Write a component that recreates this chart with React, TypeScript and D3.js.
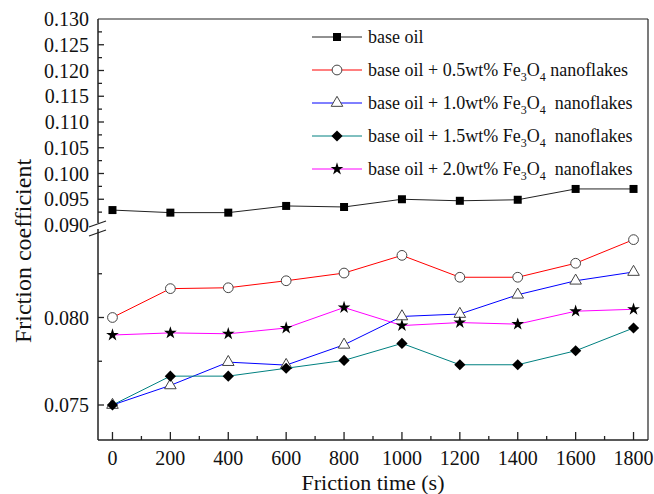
import React from "react";
import * as d3 from "d3";

// friction time (s)
const times = [0, 200, 400, 600, 800, 1000, 1200, 1400, 1600, 1800];

// friction coefficient
const baseOil = [0.0929, 0.0924, 0.0924, 0.0937, 0.0935, 0.095, 0.0947, 0.0949, 0.097, 0.097];
const wt05 = [0.08, 0.08165, 0.0817, 0.0821, 0.08254, 0.08355, 0.0823, 0.0823, 0.0831, 0.08445];
const wt10 = [0.075, 0.07612, 0.07745, 0.07728, 0.07844, 0.08006, 0.0802, 0.0813, 0.0821, 0.0826];
const wt15 = [0.075, 0.07665, 0.07665, 0.0771, 0.07755, 0.07852, 0.0773, 0.0773, 0.0781, 0.0794];
const wt20 = [0.079, 0.07912, 0.07907, 0.0794, 0.08057, 0.07954, 0.07971, 0.07962, 0.08036, 0.08047];

const xTicks = [0, 200, 400, 600, 800, 1000, 1200, 1400, 1600, 1800];
const yTicksHigh = [0.09, 0.095, 0.1, 0.105, 0.11, 0.115, 0.12, 0.125, 0.13];
const yTicksLow = [0.075, 0.08];

const FONT = "'Liberation Serif', 'Times New Roman', serif";

type Series = {
  pct: string | null;
  wide: boolean;
  values: number[];
  color: string;
  symbol: d3.SymbolType;
  size: number;
  filled: boolean;
  high: boolean;
};

const series: Series[] = [
  { pct: null, wide: false, values: baseOil, color: "#222", symbol: d3.symbolSquare, size: 64, filled: true, high: true },
  { pct: "0.5", wide: false, values: wt05, color: "#ff0000", symbol: d3.symbolCircle, size: 75, filled: false, high: false },
  { pct: "1.0", wide: true, values: wt10, color: "#0000ff", symbol: d3.symbolTriangle, size: 58, filled: false, high: false },
  { pct: "1.5", wide: true, values: wt15, color: "#008080", symbol: d3.symbolDiamond2, size: 80, filled: true, high: false },
  { pct: "2.0", wide: true, values: wt20, color: "#ff00ff", symbol: d3.symbolStar, size: 50, filled: true, high: false },
];

export default function App() {
  const width = 654;
  const height = 494;
  const left = 98, right = 648, top = 19, bottom = 440;
  const breakHi = 225, breakLo = 230;

  const x = d3.scaleLinear().domain([-50, 1850]).range([left, right]);
  const yHigh = d3.scaleLinear().domain([0.09, 0.13]).range([breakHi, top]);
  const yLow = d3.scaleLinear().domain([0.073, 0.085]).range([bottom, breakLo]);

  const minorX = d3.range(100, 1800, 200);
  const minorHigh = d3.range(0.0925, 0.13, 0.005);
  const minorLow = [0.0775, 0.0825];

  return (
    <svg width={width} height={height} style={{ position: "absolute", left: 0, top: 0, background: "#fff" }}
      fontFamily={FONT}>
      {/* frame */}
      <line x1={left} x2={right} y1={top} y2={top} stroke="#222" strokeWidth={1.2} />
      <line x1={right} x2={right} y1={top} y2={bottom} stroke="#222" strokeWidth={1.2} />
      <line x1={left} x2={right} y1={bottom} y2={bottom} stroke="#222" strokeWidth={1.5} />
      <line x1={left} x2={left} y1={top} y2={breakHi - 2} stroke="#222" strokeWidth={1.5} />
      <line x1={left} x2={left} y1={breakLo - 1} y2={bottom} stroke="#222" strokeWidth={1.5} />
      {/* axis break */}
      <line x1={left - 9} x2={left + 8} y1={breakHi + 2} y2={breakHi - 4} stroke="#222" strokeWidth={1.3} />
      <line x1={left - 9} x2={left + 8} y1={breakLo + 6} y2={breakLo} stroke="#222" strokeWidth={1.3} />

      {/* x ticks */}
      {xTicks.map((t) => (
        <g key={"x" + t}>
          <line x1={x(t)} x2={x(t)} y1={bottom} y2={bottom - 8} stroke="#222" strokeWidth={1.3} />
          <text x={x(t)} y={465} fontSize={20} textAnchor="middle" fill="#111">{t}</text>
        </g>
      ))}
      {minorX.map((t) => (
        <line key={"mx" + t} x1={x(t)} x2={x(t)} y1={bottom} y2={bottom - 4} stroke="#222" strokeWidth={1.3} />
      ))}

      {/* y ticks, upper part */}
      {yTicksHigh.map((t) => (
        <g key={"yh" + t}>
          {t < 0.13 && t > 0.09 && (
            <line x1={left} x2={left + 6} y1={yHigh(t)} y2={yHigh(t)} stroke="#222" strokeWidth={1.3} />
          )}
          <text x={left - 9} y={yHigh(t) + 7} fontSize={20} textAnchor="end" fill="#111">{t.toFixed(3)}</text>
        </g>
      ))}
      {minorHigh.map((t) => (
        <line key={"myh" + t} x1={left} x2={left + 4} y1={yHigh(t)} y2={yHigh(t)} stroke="#222" strokeWidth={1.3} />
      ))}
      {/* y ticks, lower part */}
      {yTicksLow.map((t) => (
        <g key={"yl" + t}>
          <line x1={left} x2={left + 6} y1={yLow(t)} y2={yLow(t)} stroke="#222" strokeWidth={1.3} />
          <text x={left - 9} y={yLow(t) + 7} fontSize={20} textAnchor="end" fill="#111">{t.toFixed(3)}</text>
        </g>
      ))}
      {minorLow.map((t) => (
        <line key={"myl" + t} x1={left} x2={left + 4} y1={yLow(t)} y2={yLow(t)} stroke="#222" strokeWidth={1.3} />
      ))}

      {/* axis titles */}
      <text x={(left + right) / 2} y={490} fontSize={22} textAnchor="middle" fill="#111">Friction time (s)</text>
      <text transform="translate(31,251) rotate(-90)" fontSize={24} textAnchor="middle" fill="#111">Friction coefficient</text>

      {/* series */}
      {series.map((s, i) => {
        const y = s.high ? yHigh : yLow;
        const line = d3.line<number>().x((_, j) => x(times[j])).y((v) => y(v));
        const sym = d3.symbol(s.symbol, s.size)();
        return (
          <g key={"s" + i}>
            <path d={line(s.values) ?? ""} fill="none" stroke={s.color} strokeWidth={1} />
            {s.values.map((v, j) => (
              <path key={j} d={sym ?? ""} transform={`translate(${x(times[j])},${y(v)})`}
                fill={s.filled ? "#000" : "#fff"} stroke={s.filled ? "none" : "#444"} strokeWidth={1} />
            ))}
          </g>
        );
      })}

      {/* legend */}
      {series.map((s, i) => {
        const ly = 37 + i * 33;
        const sym = d3.symbol(s.symbol, s.size)();
        return (
          <g key={"l" + i}>
            <line x1={312} x2={362} y1={ly} y2={ly} stroke={s.color} strokeWidth={1} />
            <path d={sym ?? ""} transform={`translate(337,${ly})`}
              fill={s.filled ? "#000" : "#fff"} stroke={s.filled ? "none" : "#444"} strokeWidth={1} />
            <text x={368} y={ly + 6} fontSize={18} fill="#111" xmlSpace="preserve">
              {s.pct === null ? (
                "base oil"
              ) : (
                <>
                  <tspan>{`base oil + ${s.pct}wt% Fe`}</tspan>
                  <tspan fontSize={12} dy={5}>3</tspan>
                  <tspan dy={-5}>O</tspan>
                  <tspan fontSize={12} dy={5}>4</tspan>
                  <tspan dy={-5}>{s.wide ? "  nanoflakes" : " nanoflakes"}</tspan>
                </>
              )}
            </text>
          </g>
        );
      })}
    </svg>
  );
}
